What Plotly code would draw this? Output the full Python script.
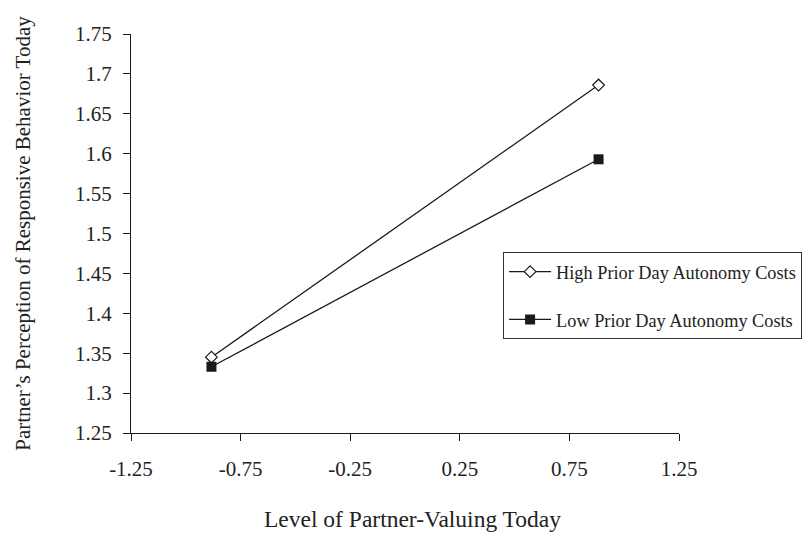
import plotly.graph_objects as go

x_levels = [-0.883, 0.883]
high_costs = [1.345, 1.686]
low_costs = [1.333, 1.593]
series_names = ["High Prior Day Autonomy Costs", "Low Prior Day Autonomy Costs"]
x_ticks = [-1.25, -0.75, -0.25, 0.25, 0.75, 1.25]
x_ticktext = ["-1.25", "-0.75", "-0.25", "0.25", "0.75", "1.25"]
y_ticks = [1.25, 1.3, 1.35, 1.4, 1.45, 1.5, 1.55, 1.6, 1.65, 1.7, 1.75]
y_ticktext = ["1.25", "1.3", "1.35", "1.4", "1.45", "1.5", "1.55", "1.6", "1.65", "1.7", "1.75"]

FONT = "Liberation Serif, Times New Roman, serif"
INK = "#1a1a1a"

fig = go.Figure()
fig.add_trace(go.Scatter(
    x=x_levels, y=high_costs, mode="lines+markers", name=series_names[0],
    legendgroup="a",
    line=dict(color=INK, width=1.3),
    marker=dict(symbol="diamond", size=9, color="white", line=dict(color=INK, width=1.2)),
))
fig.add_trace(go.Scatter(
    x=x_levels, y=low_costs, mode="lines+markers", name=series_names[1],
    legendgroup="b",
    line=dict(color=INK, width=1.3),
    marker=dict(symbol="square", size=10, color=INK, line=dict(color=INK, width=0)),
))

fig.update_layout(
    width=805, height=533,
    margin=dict(l=130.5, r=126, t=34, b=100, autoexpand=False),
    paper_bgcolor="white", plot_bgcolor="white",
    font=dict(family=FONT, color="#222", size=21),
    legend=dict(
        x=0.679, y=0.453, xanchor="left", yanchor="top",
        bordercolor="#333", borderwidth=1, bgcolor="white",
        font=dict(family=FONT, size=18.3, color="#222"),
        traceorder="grouped", tracegroupgap=21,
        itemwidth=42,
    ),
    xaxis=dict(
        range=[-1.25, 1.25], tickvals=x_ticks, ticktext=x_ticktext,
        showgrid=False, zeroline=False, showline=True, linecolor=INK, linewidth=1.3,
        ticks="outside", ticklen=7, tickwidth=1.3, tickcolor=INK,
        ticklabelstandoff=10,
        tickfont=dict(family=FONT, size=21, color="#222"),
    ),
    yaxis=dict(
        range=[1.25, 1.75], tickvals=y_ticks, ticktext=y_ticktext,
        showgrid=False, zeroline=False, showline=True, linecolor=INK, linewidth=1.3,
        ticks="outside", ticklen=7, tickwidth=1.3, tickcolor=INK,
        ticklabelstandoff=7,
        tickfont=dict(family=FONT, size=21, color="#222"),
        title=dict(text="Partner\u2019s Perception of Responsive Behavior Today", standoff=38,
                   font=dict(family=FONT, size=21, color="#222")),
    ),
    annotations=[dict(
        text="Level of Partner-Valuing Today", xref="paper", yref="paper",
        x=0.5132, y=-0.2154, xanchor="center", yanchor="middle", showarrow=False,
        font=dict(family=FONT, size=23.5, color="#222"),
    )],
)

fig.write_html("out.html")
